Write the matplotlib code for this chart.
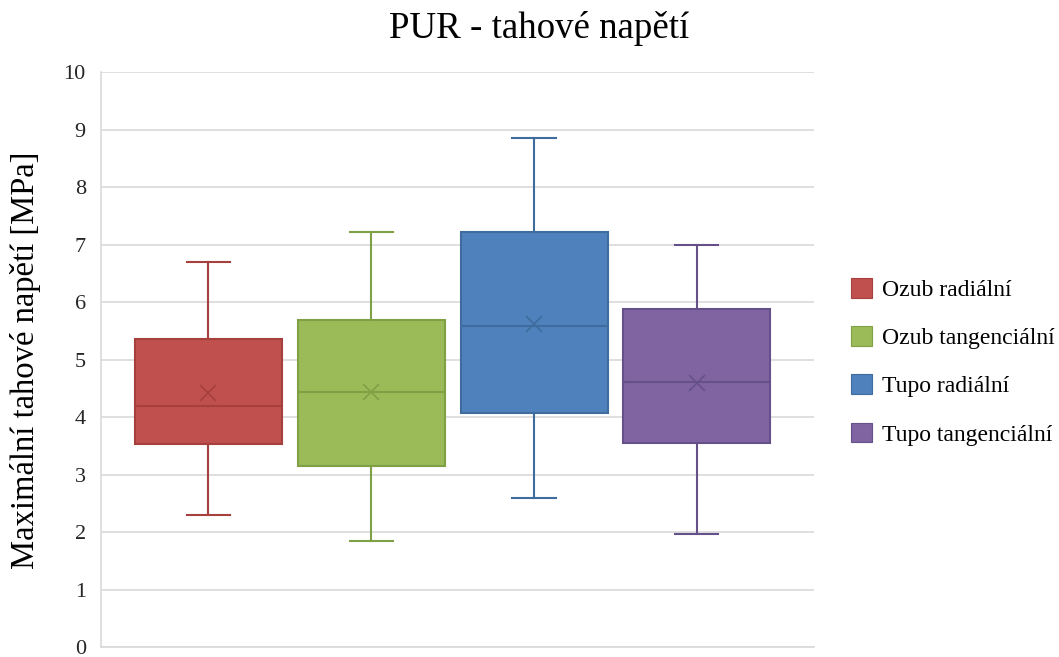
import matplotlib
matplotlib.use("Agg")
from matplotlib import pyplot as plt
from matplotlib.patches import Patch

# values
series = ['Ozub radiální', 'Ozub tangenciální', 'Tupo radiální', 'Tupo tangenciální']
whislo = [2.30, 1.85, 2.59, 1.96]
q1     = [3.53, 3.14, 4.07, 3.54]
med    = [4.20, 4.44, 5.58, 4.61]
q3     = [5.36, 5.69, 7.21, 5.87]
whishi = [6.69, 7.21, 8.86, 7.00]
means  = [4.41, 4.43, 5.61, 4.59]
yticks = list(range(0, 11))

fills = ['#C0504D', '#9BBB59', '#4F81BD', '#8064A2']
edges = ['#A5403D', '#80A046', '#3F6C9E', '#66508A']

plt.rcParams['font.family'] = ['Liberation Serif', 'DejaVu Serif']

fig = plt.figure(figsize=(10.59, 6.57), dpi=100)
ax = fig.add_axes([0.0954, 0.0152, 0.6733, 0.8752])

positions = list(range(len(series)))
for k in positions:
    st = dict(whislo=whislo[k], q1=q1[k], med=med[k], q3=q3[k],
              whishi=whishi[k], mean=means[k], fliers=[])
    ax.bxp([st], positions=[k], widths=0.903, capwidths=0.265,
           patch_artist=True, showmeans=True,
           boxprops=dict(facecolor=fills[k], edgecolor=edges[k], linewidth=1.5),
           whiskerprops=dict(color=edges[k], linewidth=1.5),
           capprops=dict(color=edges[k], linewidth=1.5),
           medianprops=dict(color=edges[k], linewidth=1.5),
           meanprops=dict(marker='x', markeredgecolor=edges[k],
                          markersize=12, markeredgewidth=1.2),
           zorder=3)

ax.set_xlim(-0.66, 3.72)
ax.set_ylim(0, 10)
ax.set_yticks(yticks)
ax.set_xticks([])
ax.yaxis.grid(True, color='#D9D9D9', linewidth=1.2)
ax.set_axisbelow(True)
for s in ['top', 'right']:
    ax.spines[s].set_visible(False)
ax.spines['left'].set_color('#D9D9D9')
ax.spines['bottom'].set_color('#D9D9D9')
ax.spines['left'].set_linewidth(1.2)
ax.spines['bottom'].set_linewidth(1.2)
ax.tick_params(axis='y', length=0, pad=11, labelsize=16, labelcolor='#262626')

fig.text(0.509, 0.956, 'PUR - tahové napětí', fontsize=26.6, ha='center', va='center')
fig.text(0.024, 0.452, 'Maximální tahové napětí [MPa]', fontsize=23.5,
         rotation=90, ha='center', va='center')

handles = [Patch(facecolor=fills[k], edgecolor=edges[k], linewidth=0.8) for k in positions]
fig.legend(handles, series, loc='upper left', bbox_to_anchor=(851 / 1059, (657 - 278) / 657),
           frameon=False, fontsize=17, borderpad=0, borderaxespad=0,
           handlelength=0.9, handleheight=0.9, handletextpad=0.42, labelspacing=1.07)

fig.savefig('out.png', dpi=100)
